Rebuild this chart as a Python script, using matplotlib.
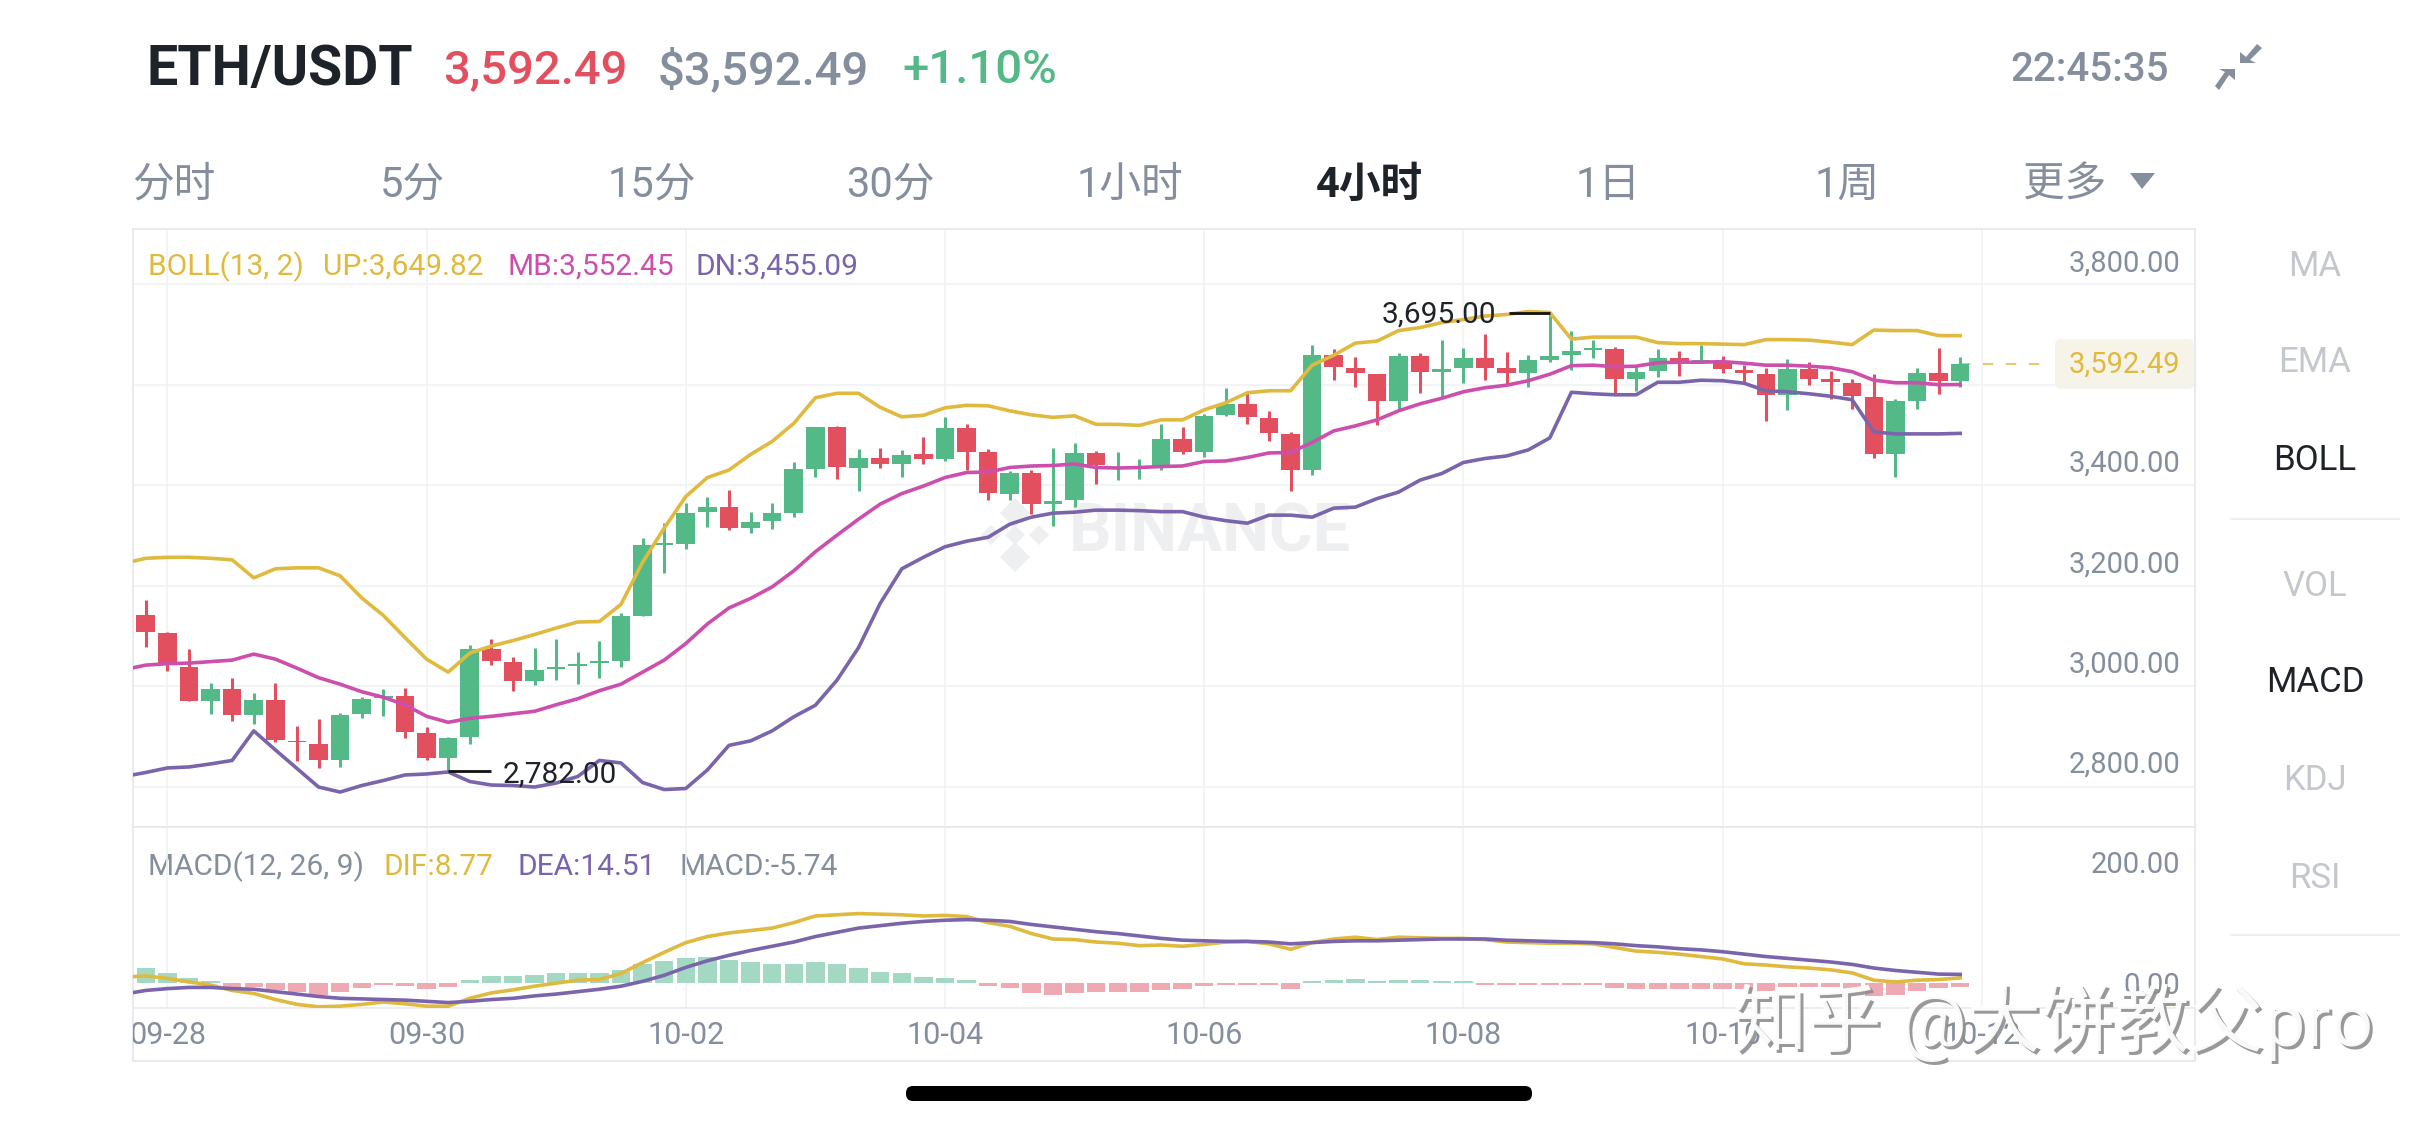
import matplotlib
matplotlib.use('Agg')
import matplotlib.pyplot as plt
from matplotlib.patches import FancyBboxPatch, Polygon, Rectangle
from matplotlib.transforms import Bbox

plt.rcParams['font.family'] = ['Roboto', 'Noto Sans CJK SC', 'DejaVu Sans']

# candles
opens = [3092, 3058, 2990, 2922, 2946, 2893, 2924, 2842, 2836, 2804, 2895, 2928, 2932, 2858, 2808, 2850, 3025,
         3000, 2962, 2985, 2992, 2997, 3001, 3091, 3232, 3234, 3298, 3309, 3266, 3281, 3296, 3385, 3467, 3387,
         3405, 3393, 3413, 3403, 3466, 3417, 3335, 3377, 3314, 3322, 3415, 3386, 3387, 3391, 3444, 3418, 3492,
         3514, 3486, 3454, 3382, 3612, 3586, 3574, 3520, 3610, 3577, 3585, 3606, 3585, 3575, 3601, 3611, 3621,
         3623, 3563, 3579, 3606, 3598, 3597, 3581, 3573, 3532, 3583, 3563, 3556, 3528, 3414, 3520, 3576, 3559]
highs = [3123, 3060, 3026, 2958, 2968, 2938, 2958, 2871, 2886, 2897, 2930, 2946, 2948, 2870, 2850, 3033, 3046,
         3009, 3028, 3046, 3020, 3041, 3096, 3247, 3277, 3316, 3329, 3343, 3299, 3317, 3397, 3467, 3470, 3423,
         3425, 3421, 3447, 3487, 3473, 3424, 3380, 3383, 3425, 3436, 3420, 3417, 3403, 3473, 3468, 3494, 3545,
         3536, 3500, 3458, 3632, 3623, 3608, 3574, 3615, 3615, 3642, 3625, 3654, 3618, 3612, 3695, 3660, 3642,
         3628, 3587, 3624, 3620, 3631, 3610, 3591, 3585, 3603, 3598, 3580, 3563, 3573, 3523, 3585, 3625, 3608]
lows = [3030, 2981, 2921, 2895, 2881, 2875, 2840, 2802, 2788, 2790, 2887, 2892, 2847, 2803, 2782, 2836, 2993,
        2941, 2954, 2963, 2955, 2967, 2989, 3090, 3177, 3224, 3269, 3262, 3256, 3264, 3288, 3369, 3365, 3341,
        3387, 3369, 3394, 3399, 3383, 3322, 3322, 3294, 3270, 3309, 3354, 3363, 3365, 3382, 3413, 3407, 3490,
        3474, 3439, 3341, 3372, 3561, 3547, 3472, 3503, 3535, 3525, 3555, 3561, 3553, 3547, 3598, 3581, 3605,
        3532, 3540, 3568, 3569, 3596, 3575, 3558, 3479, 3502, 3552, 3523, 3503, 3405, 3369, 3503, 3533, 3547]
closes = [3059, 2993, 2922, 2946, 2893, 2924, 2844, 2839, 2804, 2894, 2925, 2932, 2859, 2808, 2847, 3026, 3001,
          2962, 2984, 2990, 2996, 3001, 3090, 3233, 3236, 3297, 3309, 3266, 3279, 3296, 3385, 3467, 3389, 3405,
          3393, 3412, 3403, 3466, 3418, 3337, 3377, 3314, 3321, 3415, 3392, 3389, 3390, 3444, 3418, 3490, 3514,
          3488, 3456, 3382, 3612, 3587, 3575, 3520, 3610, 3578, 3584, 3606, 3586, 3575, 3601, 3610, 3620, 3626,
          3564, 3577, 3606, 3595, 3601, 3583, 3576, 3532, 3583, 3563, 3557, 3530, 3414, 3519, 3576, 3559, 3592.49]

# bollinger lines start one candle left of the frame
boll_up = [3196, 3206, 3208, 3208, 3206, 3203, 3167, 3185, 3187, 3187, 3171, 3127, 3092, 3048, 3005, 2979, 3017,
           3031, 3042, 3054, 3067, 3079, 3080, 3114, 3198, 3266, 3329, 3367, 3382, 3413, 3439, 3475, 3526, 3535,
           3535, 3507, 3488, 3491, 3506, 3511, 3510, 3500, 3492, 3487, 3490, 3473, 3473, 3471, 3482, 3482, 3502,
           3516, 3536, 3540, 3540, 3591, 3611, 3635, 3639, 3660, 3666, 3676, 3682, 3689, 3692, 3698, 3696, 3643,
           3647, 3647, 3647, 3636, 3634, 3634, 3633, 3632, 3642, 3642, 3641, 3637, 3632, 3661, 3660, 3660, 3650,
           3649.82]
boll_mid = [2984, 2993, 2996, 2997, 3000, 3003, 3015, 3005, 2987, 2968, 2955, 2940, 2929, 2914, 2891, 2879, 2887,
            2891, 2896, 2901, 2914, 2926, 2942, 2955, 2979, 3003, 3036, 3075, 3107, 3126, 3149, 3181, 3219, 3252,
            3284, 3314, 3335, 3350, 3367, 3377, 3378, 3387, 3390, 3391, 3394, 3387, 3386, 3387, 3389, 3390, 3399,
            3400, 3407, 3416, 3417, 3437, 3460, 3470, 3482, 3500, 3514, 3525, 3538, 3546, 3551, 3560, 3573, 3590,
            3591, 3588, 3589, 3596, 3597, 3597, 3598, 3595, 3591, 3591, 3589, 3586, 3578, 3561, 3556, 3556, 3552,
            3552.45]
boll_dn = [2771, 2779, 2788, 2790, 2796, 2803, 2862, 2824, 2787, 2750, 2740, 2753, 2763, 2774, 2776, 2780, 2761,
           2754, 2753, 2750, 2758, 2771, 2803, 2798, 2759, 2745, 2747, 2784, 2833, 2842, 2862, 2890, 2913, 2963,
           3028, 3116, 3185, 3208, 3229, 3240, 3248, 3274, 3288, 3296, 3298, 3302, 3302, 3301, 3299, 3299, 3288,
           3281, 3276, 3292, 3292, 3288, 3306, 3308, 3325, 3338, 3362, 3375, 3397, 3405, 3410, 3422, 3446, 3537,
           3534, 3532, 3532, 3557, 3557, 3561, 3560, 3555, 3540, 3538, 3534, 3529, 3522, 3458, 3454, 3454, 3454,
           3455.09]

dif = [10, 12, 8, 2, -3, -12, -17, -27, -35, -39, -38, -35, -31, -34, -38, -38, -25, -16, -11, -5, 0, 5, 6, 16,
       34, 51, 67, 77, 83, 87, 91, 100, 111, 113, 115, 114, 113, 111, 112, 110, 100, 94, 82, 73, 72, 68, 66, 62,
       63, 61, 64, 68, 69, 65, 56, 67, 73, 76, 72, 76, 75, 74, 74, 72, 68, 67, 66, 66, 65, 59, 53, 51, 48, 44, 40,
       32, 30, 27, 25, 22, 17, 5, 2, 5, 6, 8.77]
dea = [-18, -12, -9, -7, -7, -9, -10, -14, -18, -22, -25, -26, -27, -28, -30, -32, -30, -27, -25, -21, -18, -14,
       -10, -5, 3, 13, 26, 37, 46, 54, 61, 68, 77, 84, 91, 95, 99, 102, 104, 105, 104, 102, 97, 93, 89, 85, 82, 78,
       74, 71, 70, 69, 69, 68, 65, 67, 69, 70, 70, 71, 72, 73, 73, 73, 71, 70, 69, 68, 67, 65, 62, 60, 57, 55, 52,
       48, 44, 41, 38, 35, 31, 25, 21, 18, 15, 14.51]
macd_hist = [25, 17, 8, 3, -6, -6, -11, -15, -20, -15, -8, -3, -5, -9, -6, 6, 12, 12, 14, 16, 16, 16, 22, 31, 37,
             41, 43, 39, 35, 31, 32, 35, 31, 25, 19, 16, 11, 9, 5, -5, -8, -16, -19, -16, -15, -15, -15, -11, -10,
             -5, -3, -3, -3, -10, 3, 5, 7, 3, 5, 5, 3, 3, -3, -3, -3, -3, -3, -3, -8, -10, -10, -10, -10, -10, -10,
             -13, -6, -6, -6, -10, -21, -19, -13, -8, -5.74]

date_pos = [1, 13, 25, 37, 49, 61, 73, 85]
date_labels = ['09-28', '09-30', '10-02', '10-04', '10-06', '10-08', '10-10', '10-12']
price_ticks = [3800, 3400, 3200, 3000, 2800]
price_tick_labels = ['3,800.00', '3,400.00', '3,200.00', '3,000.00', '2,800.00']
price_grid = [3753, 3552, 3352, 3151, 2951, 2750]
macd_ticks = [200, 0]
macd_tick_labels = ['200.00', '0.00']

GREEN = '#53B987'
RED = '#E2505F'
GOLD = '#E0B93F'
MAGENTA = '#CC4FAE'
PURPLE = '#7A65AC'
GRAY = '#848E9C'
DARK = '#1E2329'
GRID = '#F1F2F4'
BORDER = '#E8EAED'

W, H = 2436, 1125
fig = plt.figure(figsize=(W / 100, H / 100), dpi=100, facecolor='white')


def px_axes(left, top, right, bottom, **kw):
    return fig.add_axes([left / W, 1 - bottom / H, (right - left) / W, (bottom - top) / H], **kw)


# page furniture in pixel coordinates
page = px_axes(0, 0, W, H, zorder=0)
page.set_xlim(0, W)
page.set_ylim(H, 0)
page.axis('off')

page.text(147, 70, 'ETH/USDT', fontsize=40, fontweight='bold', color=DARK, va='center')
page.text(443, 70, '3,592.49', fontsize=34, fontweight='medium', color=RED, va='center')
page.text(658, 70, '$3,592.49', fontsize=34, fontweight='medium', color=GRAY, va='center')
page.text(902, 70, '+1.10%', fontsize=34, fontweight='medium', color=GREEN, va='center')
page.text(2169, 70, '22:45:35', fontsize=29, fontweight='medium', color=GRAY, va='center', ha='right')
for pts in ([(2240, 63), (2240, 52), (2246, 57), (2257, 44), (2262, 48), (2250, 60), (2256, 63)],
            [(2235, 69), (2235, 80), (2229, 75), (2219, 90), (2215, 86), (2225, 72), (2219, 69)]):
    page.add_patch(Polygon(pts, closed=True, color=GRAY, lw=0))

tabs = ['分时', '5分', '15分', '30分', '1小时', '4小时', '1日', '1周', '更多']
tab_x = [174, 412, 652, 890, 1130, 1369, 1608, 1847, 2065]
for name, x in zip(tabs, tab_x):
    active = name == '4小时'
    page.text(x, 185, name, fontsize=30, ha='center', va='center', color=DARK if active else GRAY,
              fontweight='bold' if active else 'normal')
page.add_patch(Polygon([(2130, 173), (2155, 173), (2142, 189)], closed=True, color=GRAY, lw=0))

page.add_patch(Rectangle((133, 229), 2062, 832, fc='none', ec=BORDER, lw=1.5))

# side menu
side = ['MA', 'EMA', 'BOLL', 'VOL', 'MACD', 'KDJ', 'RSI']
side_y = [266, 363, 460, 586, 682, 780, 878]
for name, y in zip(side, side_y):
    active = name in ('BOLL', 'MACD')
    page.text(2315, y, name, fontsize=25, ha='center', va='center', color=DARK if active else '#C4C8CE')
page.plot([2231, 2399], [519, 519], color='#EEF0F2', lw=1.5)
page.plot([2231, 2399], [935, 935], color='#EEF0F2', lw=1.5)

# legends
for x, label, col in [(148, 'BOLL(13, 2)', GOLD), (323, 'UP:3,649.82', GOLD),
                      (507, 'MB:3,552.45', MAGENTA), (696, 'DN:3,455.09', PURPLE)]:
    page.text(x, 267, label, fontsize=21.5, color=col, va='center')
for x, label, col in [(148, 'MACD(12, 26, 9)', GRAY), (384, 'DIF:8.77', GOLD),
                      (518, 'DEA:14.51', PURPLE), (679, 'MACD:-5.74', GRAY)]:
    page.text(x, 867, label, fontsize=21.5, color=col, va='center')

# binance watermark
mark = '#EEEFF1'
for cx, cy, r in [(1015, 513, 15), (991, 535, 10), (1039, 535, 10), (1015, 535, 10), (1015, 557, 15)]:
    page.add_patch(Polygon([(cx - r, cy), (cx, cy - r), (cx + r, cy), (cx, cy + r)], closed=True, color=mark, lw=0))
page.text(1069, 533, 'BINANCE', fontsize=48, fontweight='bold', color=mark, va='center')

# price pane
xlim = (-0.59, 94.87)
ax = px_axes(133, 229, 2195, 827, zorder=1)
ax.patch.set_alpha(0)
ax.set_xlim(*xlim)
ax.set_ylim(2670.3, 3862.5)

idx = list(range(len(closes)))
line_x = list(range(-1, len(closes)))
colors = [GREEN if c >= o else RED for o, c in zip(opens, closes)]

ax.vlines(idx, lows, highs, colors=colors, lw=2.2, zorder=3)
ax.bar(idx, [c - o for o, c in zip(opens, closes)], bottom=opens, width=0.86, color=colors, lw=0, zorder=3)
ax.plot(line_x, boll_up, color=GOLD, lw=2.6, zorder=4)
ax.plot(line_x, boll_mid, color=MAGENTA, lw=2.6, zorder=4)
ax.plot(line_x, boll_dn, color=PURPLE, lw=2.6, zorder=4)

# last price
ax.plot([idx[-1], 88.2], [closes[-1], closes[-1]], color=GOLD, lw=1.5, ls=(0, (5, 6)), alpha=0.75, zorder=2)
page.add_patch(FancyBboxPatch((2059, 343), 131, 42, boxstyle='round,pad=4,rounding_size=6', fc='#F6F3E8', ec='none'))
ax.text(1 - 15 / 2062, closes[-1], '3,592.49', transform=ax.get_yaxis_transform(), fontsize=21, color=GOLD,
        ha='right', va='center', zorder=6)

# high / low markers
hi = highs.index(max(highs))
lo = lows.index(min(lows))
ax.hlines(highs[hi], hi - 1.9, hi, color='#111111', lw=2, zorder=5)
ax.text(hi - 2.5, highs[hi] - 3, '3,695.00', fontsize=21.5, color=DARK, ha='right', va='center', zorder=6)
ax.hlines(lows[lo], lo, lo + 2, color='#111111', lw=2, zorder=5)
ax.text(lo + 2.5, lows[lo] - 8, '2,782.00', fontsize=21.5, color=DARK, ha='left', va='center', zorder=6)

ax.set_xticks(date_pos)
ax.set_yticks(price_ticks, price_tick_labels)
ax.set_yticks(price_grid, minor=True)
ax.grid(True, which='minor', axis='y', color=GRID, lw=1.2, zorder=0)
ax.grid(True, which='major', axis='x', color=GRID, lw=1.2, zorder=0)
ax.yaxis.tick_right()
ax.tick_params(axis='x', length=0, labelbottom=False)
ax.tick_params(axis='y', which='both', length=0)
ax.tick_params(axis='y', pad=-10.8, labelsize=21, labelcolor=GRAY)
for lbl in ax.get_yticklabels():
    lbl.set_ha('right')
for s in ax.spines.values():
    s.set_color(BORDER)
    s.set_linewidth(1.2)

# macd pane
ax2 = px_axes(133, 827, 2195, 1008, zorder=1)
ax2.patch.set_alpha(0)
ax2.set_xlim(*xlim)
ax2.set_ylim(-41, 258)
hist_colors = ['#A3D9C2' if v >= 0 else '#EFA9B2' for v in macd_hist]
ax2.bar(idx, macd_hist, width=0.85, color=hist_colors, lw=0, zorder=2)
ax2.plot(line_x, dif, color=GOLD, lw=2.6, zorder=3)
ax2.plot(line_x, dea, color=PURPLE, lw=2.6, zorder=4)

ax2.set_xticks(date_pos, date_labels)
ax2.set_yticks(macd_ticks, macd_tick_labels)
ax2.grid(True, axis='x', color=GRID, lw=1.2, zorder=0)
ax2.yaxis.tick_right()
ax2.tick_params(axis='x', length=0, pad=9, labelsize=22, labelcolor=GRAY)
ax2.tick_params(axis='y', length=0, pad=-10.8, labelsize=21, labelcolor=GRAY)
for lbl in ax2.get_yticklabels():
    lbl.set_ha('right')
for lbl in ax2.get_xticklabels():
    lbl.set_clip_on(True)
    lbl.set_clip_box(Bbox([[133, 0], [2195, H]]))
for s in ax2.spines.values():
    s.set_color(BORDER)
    s.set_linewidth(1.2)

# zhihu watermark and the phone's home bar on top of everything
top = px_axes(0, 0, W, H, zorder=5)
top.set_xlim(0, W)
top.set_ylim(H, 0)
top.axis('off')
top.patch.set_alpha(0)
top.add_patch(FancyBboxPatch((906, 1086), 626, 15, boxstyle='round,pad=0,rounding_size=7', fc='black', ec='none'))
wm = '知乎 @大饼教父pro'
top.text(1736, 1026, wm, fontsize=53.5, color='#8E8E8E', ha='left', va='center', alpha=0.9)
top.text(1733, 1023, wm, fontsize=53.5, color='white', ha='left', va='center', alpha=0.95)

fig.savefig('out.png', dpi=100)
